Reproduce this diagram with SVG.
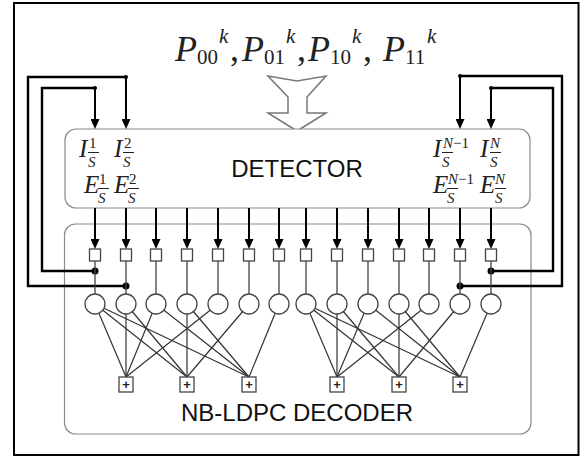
<svg xmlns="http://www.w3.org/2000/svg" width="588" height="457" viewBox="0 0 588 457">
<style>
.frame{fill:#fff;stroke:#000;stroke-width:2}
.box{fill:#fff;stroke:#8a8a8a;stroke-width:1.2}
.big{font-family:"Liberation Sans",Arial,sans-serif;font-size:24px;fill:#111;text-anchor:middle}
.math{font-family:"Liberation Serif","Times New Roman",serif;font-size:36px;fill:#222}
.it{font-style:italic}
.lab{font-family:"Liberation Serif","Times New Roman",serif;font-size:25px;fill:#222;font-style:italic}
.sc{font-size:15px}
.up{font-style:normal}
.bar{stroke:#222;stroke-width:1}
.thick{fill:none;stroke:#000;stroke-width:2.4}
.arr{fill:none;stroke:#000;stroke-width:2;marker-end:url(#ah)}
.thin{fill:none;stroke:#444;stroke-width:1.3}
.edge{stroke:#333;stroke-width:1.2}
.vn{fill:#fff;stroke:#444;stroke-width:1.3}
.sq{fill:#fff;stroke:#444;stroke-width:1.3}
.plus{font-family:"Liberation Sans",Arial,sans-serif;font-size:13px;font-weight:bold;fill:#222;text-anchor:middle}
.dot{fill:#000}
.hollow{fill:#fff;stroke:#777;stroke-width:1.5;stroke-linejoin:miter}
</style>
<defs>
<marker id="ah" viewBox="0 0 10 9" refX="7" refY="4.5" markerWidth="10" markerHeight="9" markerUnits="userSpaceOnUse" orient="auto">
<path d="M0,0 L10,4.5 L0,9 z" fill="#000"/>
</marker>
</defs>
<rect x="0" y="0" width="588" height="457" fill="#fff"/>
<g id="frame"><rect class="frame" x="14" y="3" width="564.5" height="452"/></g>

<g id="formula">
<text class="math" y="61"><tspan class="it" x="175">P</tspan><tspan font-size="21" x="197" y="64">00</tspan><tspan class="it" font-size="21" x="219" y="43">k</tspan><tspan x="230" y="61">,</tspan></text>
<text class="math" y="61"><tspan class="it" x="242">P</tspan><tspan font-size="21" x="264" y="64">01</tspan><tspan class="it" font-size="21" x="286" y="43">k</tspan><tspan x="297" y="61">,</tspan></text>
<text class="math" y="61"><tspan class="it" x="308">P</tspan><tspan font-size="21" x="330" y="64">10</tspan><tspan class="it" font-size="21" x="352" y="43">k</tspan><tspan x="363" y="61">,</tspan></text>
<text class="math" y="61"><tspan class="it" x="383">P</tspan><tspan font-size="21" x="405" y="64">11</tspan><tspan class="it" font-size="21" x="427" y="43">k</tspan></text>
</g>

<g id="input-arrow"><polygon class="hollow" points="268,76 297,81 326,76 307,97 307,113 326,113 297,131 268,113 288,113 288,97"/></g>

<g id="detector">
<rect class="box" x="65" y="129" width="465" height="79" rx="11"/>
<text class="big" x="297" y="177">DETECTOR</text>
</g>

<g id="decoder">
<rect class="box" x="64.5" y="224" width="466.5" height="210" rx="11"/>
<text class="big" x="297" y="421">NB-LDPC DECODER</text>
</g>

<g id="labels">
<text class="lab" x="79" y="157">I</text>
<text class="lab sc up" x="89" y="148">1</text>
<text class="lab sc" x="88" y="167">S</text>
<line class="bar" x1="88" y1="152.5" x2="99" y2="152.5"/>
<text class="lab" x="114" y="157">I</text>
<text class="lab sc up" x="124" y="148">2</text>
<text class="lab sc" x="123" y="167">S</text>
<line class="bar" x1="123" y1="152.5" x2="134" y2="152.5"/>

<text class="lab" x="84" y="193">E</text>
<text class="lab sc up" x="99" y="184">1</text>
<text class="lab sc" x="98" y="203">S</text>
<line class="bar" x1="98" y1="188.5" x2="109" y2="188.5"/>
<text class="lab" x="114" y="193">E</text>
<text class="lab sc up" x="129" y="184">2</text>
<text class="lab sc" x="128" y="203">S</text>
<line class="bar" x1="128" y1="188.5" x2="139" y2="188.5"/>

<text class="lab" x="433" y="157">I</text>
<text class="lab sc" x="443" y="148">N<tspan class="up">−1</tspan></text>
<text class="lab sc" x="442" y="167">S</text>
<line class="bar" x1="442" y1="152.5" x2="453" y2="152.5"/>
<text class="lab" x="480" y="157">I</text>
<text class="lab sc" x="490" y="148">N</text>
<text class="lab sc" x="490" y="167">S</text>
<line class="bar" x1="490" y1="152.5" x2="501" y2="152.5"/>

<text class="lab" x="433" y="193">E</text>
<text class="lab sc" x="448" y="184">N<tspan class="up">−1</tspan></text>
<text class="lab sc" x="447" y="203">S</text>
<line class="bar" x1="447" y1="188.5" x2="458" y2="188.5"/>
<text class="lab" x="480" y="193">E</text>
<text class="lab sc" x="495" y="184">N</text>
<text class="lab sc" x="495" y="203">S</text>
<line class="bar" x1="495" y1="188.5" x2="506" y2="188.5"/>
</g>

<g id="connectors">
<path class="thick" d="M95,271 H42 V88 H95"/>
<path class="arr" d="M95,88 V126"/>
<path class="thick" d="M126,286 H28 V77 H126"/>
<path class="arr" d="M126,77 V126"/>
<path class="thick" d="M491,271 H553 V88 H491"/>
<path class="arr" d="M491,88 V126"/>
<path class="thick" d="M460,286 H562 V76 H460"/>
<path class="arr" d="M460,76 V126"/>
<circle class="dot" cx="95" cy="271" r="3.5"/>
<circle class="dot" cx="126" cy="286" r="3.5"/>
<circle class="dot" cx="491" cy="271" r="3.5"/>
<circle class="dot" cx="460" cy="286" r="3.5"/>
<circle class="dot" cx="95" cy="88" r="2"/>
<circle class="dot" cx="126" cy="77" r="2"/>
<circle class="dot" cx="491" cy="88" r="2"/>
<circle class="dot" cx="460" cy="76" r="2"/>
<path class="arr" d="M95,208 V246"/>
<path class="arr" d="M126,208 V246"/>
<path class="arr" d="M156,208 V246"/>
<path class="arr" d="M187,208 V246"/>
<path class="arr" d="M218,208 V246"/>
<path class="arr" d="M249,208 V246"/>
<path class="arr" d="M279,208 V246"/>
<path class="arr" d="M306,208 V246"/>
<path class="arr" d="M337,208 V246"/>
<path class="arr" d="M368,208 V246"/>
<path class="arr" d="M399,208 V246"/>
<path class="arr" d="M429,208 V246"/>
<path class="arr" d="M460,208 V246"/>
<path class="arr" d="M491,208 V246"/>
<path class="thin" d="M95,261V294 M126,261V294 M156,261V294 M187,261V294 M218,261V294 M249,261V294 M279,261V294 M306,261V294 M337,261V294 M368,261V294 M399,261V294 M429,261V294 M460,261V294 M491,261V294"/>
<line class="edge" x1="95" y1="304" x2="126" y2="377"/>
<line class="edge" x1="126" y1="304" x2="126" y2="377"/>
<line class="edge" x1="156" y1="304" x2="126" y2="377"/>
<line class="edge" x1="218" y1="304" x2="126" y2="377"/>
<line class="edge" x1="95" y1="304" x2="187" y2="377"/>
<line class="edge" x1="126" y1="304" x2="187" y2="377"/>
<line class="edge" x1="187" y1="304" x2="187" y2="377"/>
<line class="edge" x1="249" y1="304" x2="187" y2="377"/>
<line class="edge" x1="95" y1="304" x2="249" y2="377"/>
<line class="edge" x1="156" y1="304" x2="249" y2="377"/>
<line class="edge" x1="187" y1="304" x2="249" y2="377"/>
<line class="edge" x1="279" y1="304" x2="249" y2="377"/>
<line class="edge" x1="306" y1="304" x2="337" y2="377"/>
<line class="edge" x1="337" y1="304" x2="337" y2="377"/>
<line class="edge" x1="368" y1="304" x2="337" y2="377"/>
<line class="edge" x1="429" y1="304" x2="337" y2="377"/>
<line class="edge" x1="306" y1="304" x2="399" y2="377"/>
<line class="edge" x1="337" y1="304" x2="399" y2="377"/>
<line class="edge" x1="399" y1="304" x2="399" y2="377"/>
<line class="edge" x1="460" y1="304" x2="399" y2="377"/>
<line class="edge" x1="306" y1="304" x2="460" y2="377"/>
<line class="edge" x1="368" y1="304" x2="460" y2="377"/>
<line class="edge" x1="399" y1="304" x2="460" y2="377"/>
<line class="edge" x1="491" y1="304" x2="460" y2="377"/>
</g>

<g id="inputs">
<rect id="in0" class="sq" x="89.5" y="249" width="11" height="12"/>
<rect id="in1" class="sq" x="120.5" y="249" width="11" height="12"/>
<rect id="in2" class="sq" x="150.5" y="249" width="11" height="12"/>
<rect id="in3" class="sq" x="181.5" y="249" width="11" height="12"/>
<rect id="in4" class="sq" x="212.5" y="249" width="11" height="12"/>
<rect id="in5" class="sq" x="243.5" y="249" width="11" height="12"/>
<rect id="in6" class="sq" x="273.5" y="249" width="11" height="12"/>
<rect id="in7" class="sq" x="300.5" y="249" width="11" height="12"/>
<rect id="in8" class="sq" x="331.5" y="249" width="11" height="12"/>
<rect id="in9" class="sq" x="362.5" y="249" width="11" height="12"/>
<rect id="in10" class="sq" x="393.5" y="249" width="11" height="12"/>
<rect id="in11" class="sq" x="423.5" y="249" width="11" height="12"/>
<rect id="in12" class="sq" x="454.5" y="249" width="11" height="12"/>
<rect id="in13" class="sq" x="485.5" y="249" width="11" height="12"/>
</g>

<g id="variable-nodes">
<circle id="v0" class="vn" cx="95" cy="304" r="10"/>
<circle id="v1" class="vn" cx="126" cy="304" r="10"/>
<circle id="v2" class="vn" cx="156" cy="304" r="10"/>
<circle id="v3" class="vn" cx="187" cy="304" r="10"/>
<circle id="v4" class="vn" cx="218" cy="304" r="10"/>
<circle id="v5" class="vn" cx="249" cy="304" r="10"/>
<circle id="v6" class="vn" cx="279" cy="304" r="10"/>
<circle id="v7" class="vn" cx="306" cy="304" r="10"/>
<circle id="v8" class="vn" cx="337" cy="304" r="10"/>
<circle id="v9" class="vn" cx="368" cy="304" r="10"/>
<circle id="v10" class="vn" cx="399" cy="304" r="10"/>
<circle id="v11" class="vn" cx="429" cy="304" r="10"/>
<circle id="v12" class="vn" cx="460" cy="304" r="10"/>
<circle id="v13" class="vn" cx="491" cy="304" r="10"/>
</g>

<g id="c0"><rect class="sq" x="119" y="377" width="14" height="15"/><text class="plus" x="126" y="389">+</text></g>
<g id="c1"><rect class="sq" x="180" y="377" width="14" height="15"/><text class="plus" x="187" y="389">+</text></g>
<g id="c2"><rect class="sq" x="242" y="377" width="14" height="15"/><text class="plus" x="249" y="389">+</text></g>
<g id="c3"><rect class="sq" x="330" y="377" width="14" height="15"/><text class="plus" x="337" y="389">+</text></g>
<g id="c4"><rect class="sq" x="392" y="377" width="14" height="15"/><text class="plus" x="399" y="389">+</text></g>
<g id="c5"><rect class="sq" x="453" y="377" width="14" height="15"/><text class="plus" x="460" y="389">+</text></g>
</svg>
